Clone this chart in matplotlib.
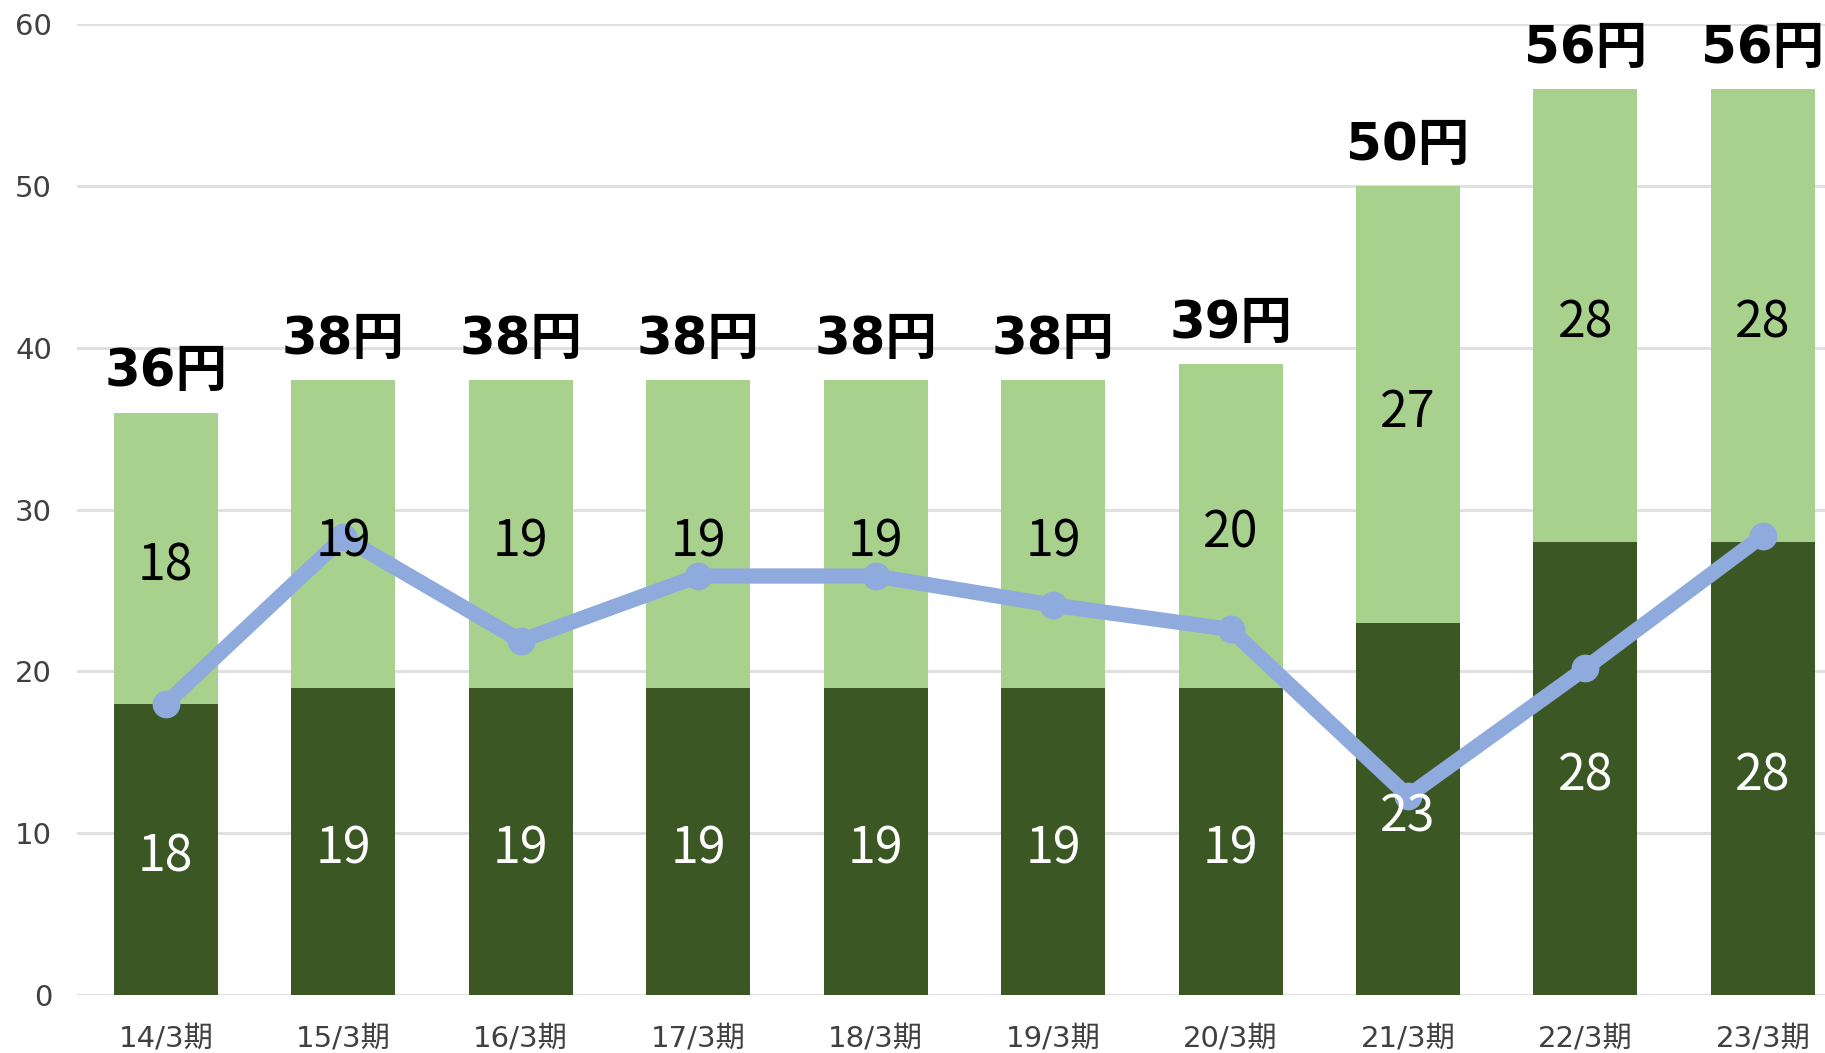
import numpy as np
import matplotlib.pyplot as plt

# data
periods = ["14/3期", "15/3期", "16/3期", "17/3期", "18/3期", "19/3期", "20/3期", "21/3期", "22/3期", "23/3期"]
dark_vals = [18, 19, 19, 19, 19, 19, 19, 23, 28, 28]
light_vals = [18, 19, 19, 19, 19, 19, 20, 27, 28, 28]
line_vals = [18.0, 28.3, 21.9, 25.9, 25.9, 24.1, 22.6, 12.3, 20.2, 28.4]

plt.rcParams['font.family'] = ['DejaVu Sans', 'Noto Sans CJK JP']
noto = ['Noto Sans CJK JP', 'DejaVu Sans']

dark = "#3a5724"
light = "#a9d18e"
blue = "#8faadc"

fig = plt.figure(figsize=(18.25, 10.53), dpi=100)
ax = fig.add_axes([0.0422, 0.0551, 0.9578, 0.9217])

x = np.arange(len(periods))
w = 0.586
totals = [a + b for a, b in zip(dark_vals, light_vals)]

ax.bar(x, dark_vals, w, color=dark, zorder=2)
ax.bar(x, light_vals, w, bottom=dark_vals, color=light, zorder=2)
ax.plot(x, line_vals, color=blue, lw=11, marker="o", ms=19, zorder=3,
        solid_joinstyle="round")

for i in range(len(x)):
    ax.text(x[i], dark_vals[i] / 2 - 0.5, str(dark_vals[i]), ha="center", va="center",
            color="white", fontsize=36, family=noto, zorder=4)
    ax.text(x[i], dark_vals[i] + light_vals[i] / 2 - 0.5, str(light_vals[i]), ha="center",
            va="center", color="black", fontsize=36, family=noto, zorder=4)
    ax.text(x[i], totals[i] + 2.5, f"{totals[i]}円", ha="center", va="center",
            color="black", fontsize=37, fontweight="bold", zorder=4)

ax.set_xlim(-0.5, 9.35)
ax.set_ylim(0, 60)
ax.set_yticks(range(0, 61, 10))
ax.set_xticks(x)
ax.set_xticklabels(periods)
ax.grid(axis="y", color="#e0e0e0", lw=2.2, zorder=0)
ax.set_axisbelow(True)
for s in ax.spines.values():
    s.set_visible(False)
ax.tick_params(axis="both", length=0, labelsize=21, colors="#404040")
ax.tick_params(axis="y", pad=18)
ax.tick_params(axis="x", pad=21)

fig.savefig("out.png", dpi=100)
